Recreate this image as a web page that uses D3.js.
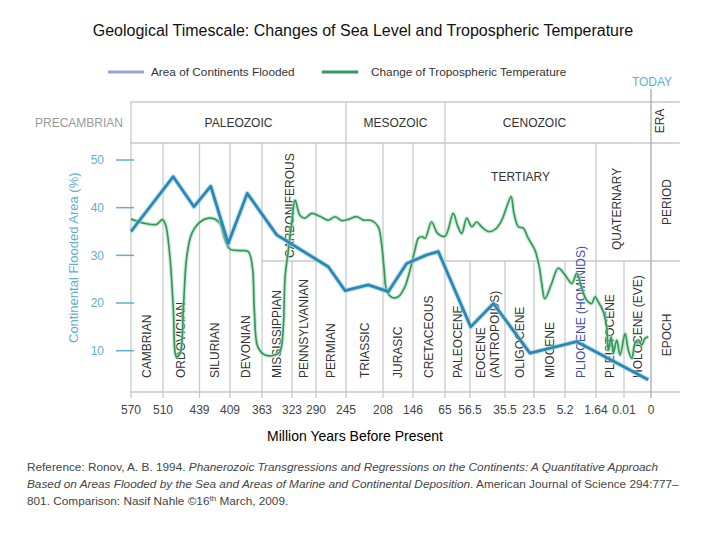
<!DOCTYPE html>
<html>
<head>
<meta charset="utf-8">
<script src="https://cdn.jsdelivr.net/npm/d3@7"></script>
<style>
  body { margin: 0; background: #fff; }
  svg { font-family: "Liberation Sans", Arial, sans-serif; }
</style>
</head>
<body>
<div class="graph"></div>
<script>
// tick labels along the time axis (million years before present)
const ages = ['570', '510', '439', '409', '363', '323', '290', '245', '208', '146', '65', '56.5', '35.5', '23.5', '5.2', '1.64', '0.01', '0'];
// epochs, one per column between two ticks
const epochs = ['CAMBRIAN', 'ORDOVICIAN', 'SILURIAN', 'DEVONIAN', 'MISSISSIPPIAN', 'PENNSYLVANIAN', 'PERMIAN',
    'TRIASSIC', 'JURASIC', 'CRETACEOUS', 'PALEOCENE', ['EOCENE', '(ANTROPOIDS)'], 'OLIGOCENE', 'MIOCENE',
    'PLIOCENE (HOMINIDS)', 'PLEISTOCENE', 'HOLOCENE (EVE)'];
const eras = [
    { name: 'PALEOZOIC', from: 0, to: 7 },
    { name: 'MESOZOIC', from: 7, to: 10 },
    { name: 'CENOZOIC', from: 10, to: 16 }
];
const yTicks = [10, 20, 30, 40, 50];

// area of continents flooded (%) ; position = fractional tick index
const floodPos = [0, 1.28, 1.85, 2.37, 2.94, 3.54, 4.49, 6.41, 6.97, 7.6, 8.18, 8.79, 9.43, 9.79, 11.02, 11.67, 12.86, 14.38, 16.9];
const floodArea = [35.0, 46.5, 40.2, 44.5, 32.5, 43.0, 34.3, 27.6, 22.6, 23.8, 22.4, 28.3, 30.1, 30.8, 15.0, 19.9, 9.5, 11.9, 3.9];

// change of tropospheric temperature (plotted on the same scale)
const tempPos = [0, 0.44, 0.8, 0.98, 1.07, 1.19, 1.28, 1.37, 1.47, 1.56, 1.65, 1.79, 2.02, 2.29, 2.51, 2.67, 2.84, 3.0,
    3.31, 3.57, 3.7, 3.76, 3.87, 4.1, 4.43, 4.6, 4.71, 4.77, 4.88, 4.99, 5.13, 5.33, 5.54, 5.82, 6.13, 6.41, 6.63,
    6.86, 7.08, 7.29, 7.47, 7.69, 7.87, 7.96, 8.04, 8.12, 8.29, 8.51, 8.73, 8.9, 9.06, 9.17, 9.29, 9.38, 9.58, 9.77,
    10.0, 10.33, 10.49, 10.67, 10.87, 11.05, 11.19, 11.33, 11.52, 11.71, 11.91, 12.06, 12.21, 12.31, 12.46, 12.63,
    12.8, 13.03, 13.17, 13.25, 13.35, 13.57, 13.78, 14.0, 14.22, 14.38, 14.54, 14.7, 14.86, 14.97, 15.08, 15.26,
    15.38, 15.44, 15.54, 15.62, 15.74, 15.86, 16.04, 16.16, 16.29, 16.41, 16.53, 16.66, 16.78, 16.9];
const tempVal = [37.6, 36.7, 36.5, 37.5, 36.4, 29.7, 19.2, 8.7, 9.5, 19.2, 29.7, 34.6, 37.0, 37.8, 37.6, 36.7, 33.2, 31.3,
    31.0, 30.8, 27.6, 18.5, 10.8, 9.1, 9.1, 9.8, 15.0, 25.5, 31.1, 36.7, 41.6, 38.4, 37.8, 38.8, 38.2, 37.4, 38.1,
    37.3, 37.6, 38.1, 37.4, 37.3, 36.0, 32.5, 26.9, 22.7, 21.2, 21.3, 23.4, 26.9, 31.1, 33.6, 33.9, 33.6, 37.0, 34.6,
    34.0, 38.8, 36.4, 34.6, 37.8, 36.0, 37.0, 36.0, 35.0, 35.4, 37.4, 40.2, 42.3, 38.8, 36.0, 35.7,
    33.6, 31.1, 27.6, 24.1, 20.9, 24.1, 27.3, 25.9, 24.1, 26.2, 23.1, 20.6, 19.9, 21.3, 20.3, 18.2,
    15.0, 10.1, 12.9, 9.5, 12.2, 9.1, 13.6, 10.1, 8.4, 11.6, 12.2, 11.2, 12.6, 12.9];

// layout: column widths between ticks, and how high each tick's divider reaches
const colWidths = [32, 36.5, 30.5, 32, 30, 24, 30, 37, 30, 32, 25, 35, 29, 31, 31, 28, 27];
const dividerTop = ['era', 'period', 'period', 'period', 'period', 'epoch', 'period', 'era', 'period', 'period',
    'era', 'epoch', 'epoch', 'epoch', 'epoch', 'period', 'epoch', 'today'];

const width = 713, height = 534;
const left = 131, right = 680;
const band = { today: 89, era: 102, period: 143, epoch: 261, bottom: 392 };
const teal = '#5fb0cd', grid = '#c9c9c9', ink = '#333';

const svg = d3.select('.graph')
    .append('svg')
    .attr('width', width)
    .attr('height', height);

const xRange = colWidths.reduce((acc, w) => { acc.push(acc[acc.length - 1] + w); return acc; }, [left]);
const xScale = d3.scaleLinear().domain(d3.range(ages.length)).range(xRange);
const yScale = d3.scaleLinear().domain([10, 50]).range([350.7, 160]);

// title and legend
svg.append('text')
    .attr('x', 363).attr('y', 36)
    .attr('text-anchor', 'middle')
    .style('font-size', '16px').attr('fill', '#111')
    .text('Geological Timescale: Changes of Sea Level and Tropospheric Temperature');

const legend = [
    { label: 'Area of Continents Flooded', color: '#8ea9dc', x: 108, dx: 43 },
    { label: 'Change of Tropospheric Temperature', color: '#2f9a5a', x: 322, dx: 49 }
];
const lg = svg.selectAll('.legend').data(legend).enter().append('g').classed('legend', true)
    .attr('transform', d => `translate(${d.x},72)`);
lg.append('line').attr('x1', 0).attr('x2', 36).attr('stroke', d => d.color).attr('stroke-width', 3);
lg.append('text').attr('x', d => d.dx).attr('y', 4)
    .style('font-size', '11.8px').attr('fill', ink).text(d => d.label);

// framework lines
const frame = svg.append('g').attr('stroke', grid).attr('stroke-width', 1.3);
[band.era, band.period, band.bottom].forEach(yy => {
    frame.append('line').attr('x1', left - 1).attr('x2', right).attr('y1', yy).attr('y2', yy);
});
[[4, 6], [10, null]].forEach(([a, b]) => {
    frame.append('line').attr('x1', xScale(a)).attr('x2', b === null ? right : xScale(b))
        .attr('y1', band.epoch).attr('y2', band.epoch);
});
frame.selectAll('.divider').data(ages).enter().append('line').classed('divider', true)
    .attr('x1', (d, i) => xScale(i)).attr('x2', (d, i) => xScale(i))
    .attr('y1', (d, i) => band[dividerTop[i]])
    .attr('y2', band.bottom + 6)
    .attr('stroke', (d, i) => dividerTop[i] === 'today' ? '#aaa' : grid);

// era / period text
const eraG = svg.append('g').style('font-size', '12px').attr('fill', ink).attr('text-anchor', 'middle');
eraG.selectAll('.era').data(eras).enter().append('text').classed('era', true)
    .attr('x', d => (xScale(d.from) + xScale(d.to)) / 2).attr('y', 127)
    .text(d => d.name);
eraG.append('text').attr('x', left - 52).attr('y', 127).attr('fill', '#9a9a9a').text('PRECAMBRIAN');
eraG.append('text').attr('x', xScale(17) + 1).attr('y', 86).attr('fill', teal).text('TODAY');
eraG.append('text').attr('x', (xScale(10) + xScale(15)) / 2).attr('y', 181).text('TERTIARY');
const rot = (x, y, txt, anchor) => eraG.append('text')
    .attr('transform', `translate(${x},${y}) rotate(-90)`)
    .attr('dy', '0.35em').attr('text-anchor', anchor).text(txt);
rot(660, 121, 'ERA', 'middle');
rot(667, 202, 'PERIOD', 'middle');
rot(667, 335, 'EPOCH', 'middle');
rot(xScale(15) + 21, 250, 'QUATERNARY', 'start');
rot(xScale(5) - 2, 258, 'CARBONIFEROUS', 'start');

// epoch labels
epochs.forEach((e, i) => {
    const cx = (xScale(i) + xScale(i + 1)) / 2;
    const lines = Array.isArray(e) ? e : [e];
    lines.forEach((t, j) => {
        eraG.append('text')
            .attr('transform', `translate(${cx + (j - (lines.length - 1) / 2) * 14},378) rotate(-90)`)
            .attr('dy', '0.35em').attr('text-anchor', 'start')
            .attr('fill', t.startsWith('PLIOCENE') ? '#3b4fa0' : ink)
            .text(t);
    });
});

// y axis (teal ticks + labels)
const yAxis = svg.append('g');
yAxis.selectAll('line').data(yTicks).enter().append('line')
    .attr('x1', 116).attr('x2', 134)
    .attr('y1', d => yScale(d)).attr('y2', d => yScale(d))
    .attr('stroke', teal).attr('stroke-width', 1.5);
yAxis.selectAll('text').data(yTicks).enter().append('text')
    .attr('x', 104).attr('y', d => yScale(d)).attr('dy', '0.35em')
    .attr('text-anchor', 'end').style('font-size', '12px').attr('fill', teal)
    .text(d => d);
yAxis.append('text')
    .attr('transform', `translate(73,${yScale(29.5)}) rotate(-90)`)
    .attr('dy', '0.35em').attr('text-anchor', 'middle')
    .style('font-size', '13px').attr('fill', teal)
    .text('Continental Flooded Area (%)');

// x tick labels and title
svg.append('g').selectAll('text').data(ages).enter().append('text')
    .attr('x', (d, i) => xScale(i)).attr('y', 414)
    .attr('text-anchor', 'middle').style('font-size', '12px').attr('fill', '#444')
    .text(d => d);
svg.append('text')
    .attr('x', 355).attr('y', 441).attr('text-anchor', 'middle')
    .style('font-size', '14px').attr('fill', '#000')
    .text('Million Years Before Present');

// series
const tempData = tempPos.map((p, i) => [p, tempVal[i]]);
const floodData = floodPos.map((p, i) => [p, floodArea[i]]);
const smooth = d3.line().x(d => xScale(d[0])).y(d => yScale(d[1])).curve(d3.curveCatmullRom.alpha(0.5));
const straight = d3.line().x(d => xScale(d[0])).y(d => yScale(d[1]));

svg.append('path').attr('d', smooth(tempData)).attr('fill', 'none')
    .attr('stroke', '#a9dcb8').attr('stroke-width', 4).attr('opacity', 0.6);
svg.append('path').attr('d', smooth(tempData)).attr('fill', 'none')
    .attr('stroke', '#36995a').attr('stroke-width', 1.7);
svg.append('path').attr('d', straight(floodData)).attr('fill', 'none')
    .attr('stroke', '#9ccbe0').attr('stroke-width', 5).attr('opacity', 0.6)
    .attr('stroke-linejoin', 'round');
svg.append('path').attr('d', straight(floodData)).attr('fill', 'none')
    .attr('stroke', '#2a88b4').attr('stroke-width', 2.8).attr('stroke-linejoin', 'round');

// reference note
const note = svg.append('text').style('font-size', '11.8px').attr('fill', '#444');
const l1 = note.append('tspan').attr('x', 27).attr('y', 471);
l1.append('tspan').text('Reference: Ronov, A. B. 1994. ');
l1.append('tspan').style('font-style', 'italic')
    .text('Phanerozoic Transgressions and Regressions on the Continents: A Quantitative Approach');
const l2 = note.append('tspan').attr('x', 27).attr('y', 488);
l2.append('tspan').style('font-style', 'italic')
    .text('Based on Areas Flooded by the Sea and Areas of Marine and Continental Deposition');
l2.append('tspan').text('. American Journal of Science 294:777–');
const l3 = note.append('tspan').attr('x', 27).attr('y', 505);
l3.append('tspan').text('801. Comparison: Nasif Nahle ©16');
l3.append('tspan').attr('dy', -4).style('font-size', '8px').text('th');
l3.append('tspan').attr('dy', 4).text(' March, 2009.');
</script>
</body>
</html>
